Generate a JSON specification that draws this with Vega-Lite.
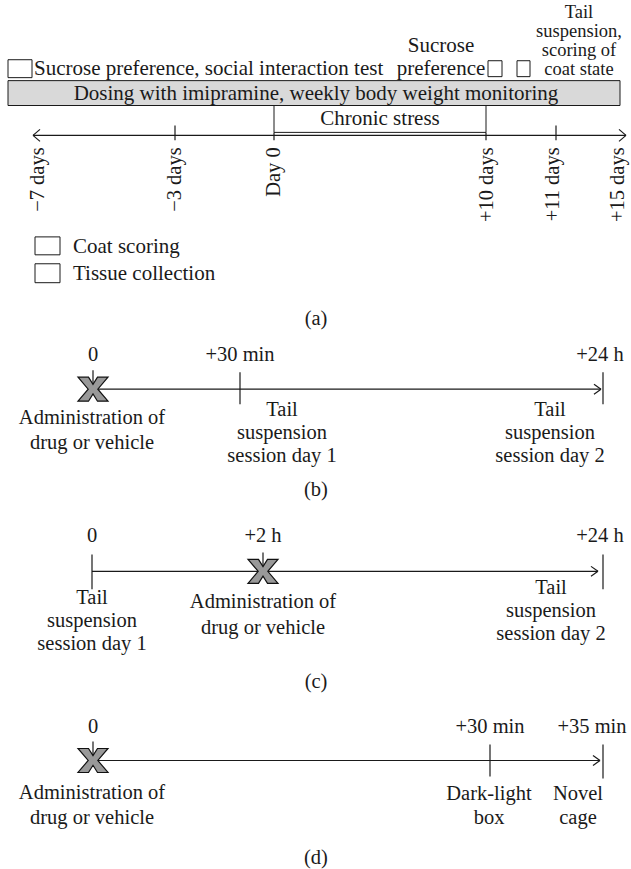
{
  "$schema": "https://vega.github.io/schema/vega-lite/v6.json",
  "width": 631,
  "height": 869,
  "autosize": {"type": "fit", "contains": "padding"},
  "padding": 0,
  "background": "white",
  "config": {"view": {"stroke": null}, "text": {"font": "Liberation Serif", "fontSize": 20.5, "color": "#1a1a1a"}},
  "datasets": {
    "band": [{"x": 8, "x2": 620, "y": 81, "y2": 106}],
    "boxes": [
      {"x": 274, "x2": 486, "y": 106, "y2": 133},
      {"x": 8, "x2": 32, "y": 60, "y2": 78},
      {"x": 488, "x2": 502, "y": 61, "y2": 77},
      {"x": 517, "x2": 530, "y": 61, "y2": 77},
      {"x": 35, "x2": 60, "y": 238, "y2": 256},
      {"x": 35, "x2": 60, "y": 265, "y2": 284}
    ],
    "lines": [
      {"x": 33, "x2": 626, "y": 136, "y2": 136},
      {"x": 33, "x2": 40, "y": 136, "y2": 130},
      {"x": 33, "x2": 40, "y": 136, "y2": 142},
      {"x": 626, "x2": 619, "y": 136, "y2": 130},
      {"x": 626, "x2": 619, "y": 136, "y2": 142},
      {"x": 175, "x2": 175, "y": 126, "y2": 141},
      {"x": 274, "x2": 274, "y": 133, "y2": 141},
      {"x": 486, "x2": 486, "y": 133, "y2": 141},
      {"x": 556, "x2": 556, "y": 126, "y2": 141},
      {"x": 93, "x2": 601, "y": 391, "y2": 391},
      {"x": 601, "x2": 594, "y": 391, "y2": 386},
      {"x": 601, "x2": 594, "y": 391, "y2": 396},
      {"x": 603, "x2": 603, "y": 374, "y2": 406},
      {"x": 240, "x2": 240, "y": 374, "y2": 406},
      {"x": 93, "x2": 93, "y": 372, "y2": 391},
      {"x": 92, "x2": 598, "y": 574, "y2": 574},
      {"x": 598, "x2": 591, "y": 574, "y2": 569},
      {"x": 598, "x2": 591, "y": 574, "y2": 579},
      {"x": 92, "x2": 92, "y": 557, "y2": 592},
      {"x": 603, "x2": 603, "y": 557, "y2": 592},
      {"x": 263, "x2": 263, "y": 555, "y2": 574},
      {"x": 93, "x2": 600, "y": 764, "y2": 764},
      {"x": 600, "x2": 593, "y": 764, "y2": 759},
      {"x": 600, "x2": 593, "y": 764, "y2": 769},
      {"x": 490, "x2": 490, "y": 748, "y2": 780},
      {"x": 603, "x2": 603, "y": 748, "y2": 782},
      {"x": 93, "x2": 93, "y": 745, "y2": 764}
    ],
    "marks": [
      {"x": 93, "y": 391},
      {"x": 263, "y": 574},
      {"x": 93, "y": 764}
    ],
    "topText": [
      {"x": 316, "y": 94, "t": "Dosing with imipramine, weekly body weight monitoring"},
      {"x": 380, "y": 120, "t": "Chronic stress"},
      {"x": 441, "y": 46, "t": "Sucrose"},
      {"x": 441, "y": 69, "t": "preference"}
    ],
    "stackText": [
      {"x": 579, "y": 12, "t": "Tail"},
      {"x": 579, "y": 31, "t": "suspension,"},
      {"x": 579, "y": 50, "t": "scoring of"},
      {"x": 579, "y": 69, "t": "coat state"}
    ],
    "centerText": [
      {"x": 316, "y": 320, "t": "(a)"},
      {"x": 93, "y": 357, "t": "0"},
      {"x": 240, "y": 357, "t": "+30 min"},
      {"x": 600, "y": 357, "t": "+24 h"},
      {"x": 92, "y": 420, "t": "Administration of"},
      {"x": 92, "y": 445, "t": "drug or vehicle"},
      {"x": 282, "y": 412, "t": "Tail"},
      {"x": 282, "y": 435, "t": "suspension"},
      {"x": 282, "y": 458, "t": "session day 1"},
      {"x": 550, "y": 412, "t": "Tail"},
      {"x": 550, "y": 435, "t": "suspension"},
      {"x": 550, "y": 458, "t": "session day 2"},
      {"x": 316, "y": 492, "t": "(b)"},
      {"x": 92, "y": 538, "t": "0"},
      {"x": 263, "y": 538, "t": "+2 h"},
      {"x": 600, "y": 538, "t": "+24 h"},
      {"x": 92, "y": 601, "t": "Tail"},
      {"x": 92, "y": 624, "t": "suspension"},
      {"x": 92, "y": 647, "t": "session day 1"},
      {"x": 263, "y": 605, "t": "Administration of"},
      {"x": 263, "y": 631, "t": "drug or vehicle"},
      {"x": 551, "y": 591, "t": "Tail"},
      {"x": 551, "y": 614, "t": "suspension"},
      {"x": 551, "y": 637, "t": "session day 2"},
      {"x": 316, "y": 685, "t": "(c)"},
      {"x": 93, "y": 730, "t": "0"},
      {"x": 490, "y": 730, "t": "+30 min"},
      {"x": 592, "y": 730, "t": "+35 min"},
      {"x": 92, "y": 797, "t": "Administration of"},
      {"x": 92, "y": 822, "t": "drug or vehicle"},
      {"x": 489, "y": 798, "t": "Dark-light"},
      {"x": 489, "y": 822, "t": "box"},
      {"x": 578, "y": 798, "t": "Novel"},
      {"x": 578, "y": 822, "t": "cage"},
      {"x": 316, "y": 862, "t": "(d)"}
    ],
    "leftText": [
      {"x": 34, "y": 69, "t": "Sucrose preference, social interaction test"},
      {"x": 73, "y": 248, "t": "Coat scoring"},
      {"x": 73, "y": 275, "t": "Tissue collection"}
    ],
    "rotText": [
      {"x": 38, "y": 148, "t": "−7 days"},
      {"x": 175, "y": 148, "t": "−3 days"},
      {"x": 274, "y": 148, "t": "Day 0"},
      {"x": 487, "y": 148, "t": "+10 days"},
      {"x": 553, "y": 148, "t": "+11 days"},
      {"x": 618, "y": 148, "t": "+15 days"}
    ]
  },
  "layer": [
    {
      "data": {"name": "band"},
      "mark": {"type": "rect", "fill": "#d9d9d9", "stroke": "#1a1a1a", "strokeWidth": 1},
      "encoding": {
        "x": {"field": "x", "type": "quantitative", "scale": {"domain": [0, 631], "nice": false, "zero": false}, "axis": null},
        "x2": {"field": "x2"},
        "y": {"field": "y", "type": "quantitative", "scale": {"domain": [0, 869], "nice": false, "zero": false, "reverse": true}, "axis": null},
        "y2": {"field": "y2"}
      }
    },
    {
      "data": {"name": "boxes"},
      "mark": {"type": "rect", "fill": "white", "stroke": "#1a1a1a", "strokeWidth": 1},
      "encoding": {
        "x": {"field": "x", "type": "quantitative", "axis": null},
        "x2": {"field": "x2"},
        "y": {"field": "y", "type": "quantitative", "axis": null},
        "y2": {"field": "y2"}
      }
    },
    {
      "data": {"name": "lines"},
      "mark": {"type": "rule", "stroke": "#1a1a1a", "strokeWidth": 1.2},
      "encoding": {
        "x": {"field": "x", "type": "quantitative", "axis": null},
        "x2": {"field": "x2"},
        "y": {"field": "y", "type": "quantitative", "axis": null},
        "y2": {"field": "y2"}
      }
    },
    {
      "data": {"name": "marks"},
      "mark": {"type": "point", "filled": true, "fill": "#999999", "stroke": "#111111", "strokeWidth": 1.2, "opacity": 1, "size": 900,
        "shape": "M-1,-0.8L-0.3,-0.8L0,-0.32L0.3,-0.8L1,-0.8L0.32,0L1,0.8L0.3,0.8L0,0.32L-0.3,0.8L-1,0.8L-0.32,0Z"},
      "encoding": {
        "x": {"field": "x", "type": "quantitative", "axis": null},
        "y": {"field": "y", "type": "quantitative", "axis": null}
      }
    },
    {
      "data": {"name": "topText"},
      "mark": {"type": "text", "align": "center", "baseline": "middle", "fontSize": 21},
      "encoding": {
        "x": {"field": "x", "type": "quantitative", "axis": null},
        "y": {"field": "y", "type": "quantitative", "axis": null},
        "text": {"field": "t"}
      }
    },
    {
      "data": {"name": "stackText"},
      "mark": {"type": "text", "align": "center", "baseline": "middle", "fontSize": 18.5},
      "encoding": {
        "x": {"field": "x", "type": "quantitative", "axis": null},
        "y": {"field": "y", "type": "quantitative", "axis": null},
        "text": {"field": "t"}
      }
    },
    {
      "data": {"name": "centerText"},
      "mark": {"type": "text", "align": "center", "baseline": "middle"},
      "encoding": {
        "x": {"field": "x", "type": "quantitative", "axis": null},
        "y": {"field": "y", "type": "quantitative", "axis": null},
        "text": {"field": "t"}
      }
    },
    {
      "data": {"name": "leftText"},
      "mark": {"type": "text", "align": "left", "baseline": "middle", "fontSize": 21},
      "encoding": {
        "x": {"field": "x", "type": "quantitative", "axis": null},
        "y": {"field": "y", "type": "quantitative", "axis": null},
        "text": {"field": "t"}
      }
    },
    {
      "data": {"name": "rotText"},
      "mark": {"type": "text", "align": "right", "baseline": "middle", "angle": 270},
      "encoding": {
        "x": {"field": "x", "type": "quantitative", "axis": null},
        "y": {"field": "y", "type": "quantitative", "axis": null},
        "text": {"field": "t"}
      }
    }
  ]
}
